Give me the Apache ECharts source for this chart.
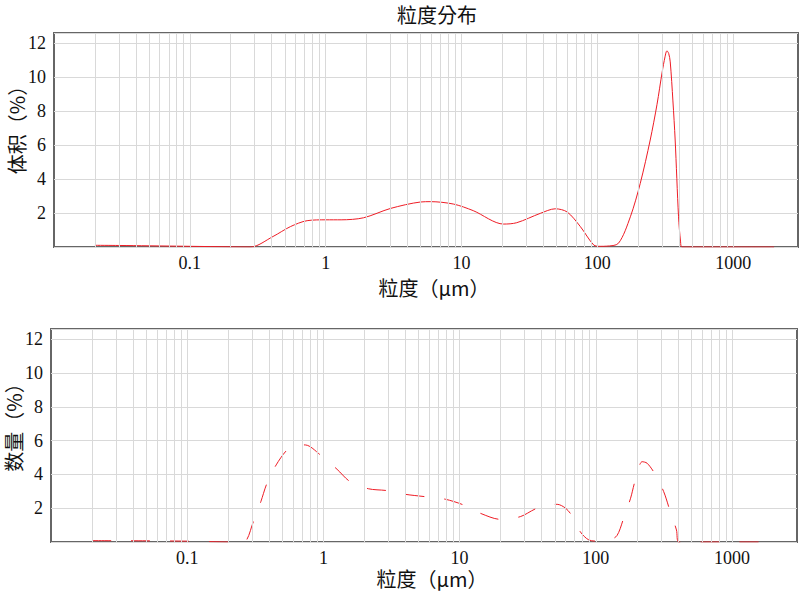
<!DOCTYPE html>
<html><head><meta charset="utf-8">
<script src="https://cdn.jsdelivr.net/npm/echarts@6/dist/echarts.min.js"></script>
<style>html,body{margin:0;padding:0;background:#fff}#c{width:800px;height:592px}</style>
</head><body><div id="c"></div>
<script>
// ---- text ----
const titleText = '粒度分布';
const xAxisName = '粒度（μm）';
const yNameVolume = '体积（%）';
const yNameNumber = '数量（%）';

// ---- vertical grid line positions (µm) ----
const gridLineValues = [
  0.02,0.03,0.04,0.05,0.06,0.07,0.08,0.09,
  0.1,0.2,0.3,0.4,0.5,0.6,0.7,0.8,0.9,
  1,2,3,4,5,6,7,8,9,
  10,20,30,40,50,60,70,80,90,
  100,200,300,400,500,600,700,800,900,1000
];

// ---- volume distribution (top) ----
const volumeSize = [0.02,0.03,0.05,0.1,0.2,0.28,0.41,0.55,0.73,1.0,1.3,1.9,3.0,5.0,5.9,8.7,12.2,20.4,25.5,38,49,60,75,94,105,117,143,175,207,245,275,300,315,325,335,344,360,374,396,410,419,600,1000,2000];
const volumePct  = [0.1,0.09,0.07,0.04,0.01,0,0.62,1.2,1.55,1.6,1.6,1.72,2.27,2.65,2.67,2.53,2.14,1.35,1.43,1.98,2.25,2.06,1.2,0.12,0.04,0.05,0.22,1.78,3.75,6.3,8.4,10.3,11.2,11.55,11.4,10.9,8.6,6.3,1.78,0.3,0,0,0,0];

// ---- number distribution (bottom) ----
const numberSize = [0.02,0.03,0.05,0.1,0.15,0.2,0.26,0.306,0.347,0.385,0.45,0.54,0.63,0.74,0.95,1.26,1.57,2.14,2.93,4.0,5.6,7.85,10.7,14.6,19.9,27.9,37.1,52,60,67,77,89,105,125,143,160,180,195,219,238,270,315,349,391,406,600,1000,2000];
const numberPct  = [0.08,0.075,0.07,0.05,0.02,0,0,1.2,2.38,3.47,4.56,5.44,5.75,5.74,5.15,4.3,3.57,3.15,3.04,2.82,2.68,2.53,2.19,1.66,1.34,1.5,2.0,2.23,2.0,1.54,0.6,0.12,0.05,0.1,0.38,1.4,2.59,3.67,4.75,4.66,4.06,2.98,1.89,0.71,0,0,0,0];

const zip = (xs, ys) => xs.map((x, i) => [x, ys[i]]);

const labelFont = { fontFamily: 'Liberation Serif', fontSize: 18, lineHeight: 15, color: '#111' };
const nameFont = { fontFamily: 'Noto Sans CJK TC', fontSize: 20, lineHeight: 22, color: '#111' };
const gridColor = '#d9d9d9';

function xAxisCfg(gridIndex, gap) {
  return {
    gridIndex, type: 'log', logBase: 10, min: 0.01, max: 3000,
    name: xAxisName, nameLocation: 'middle', nameGap: gap, nameMoveOverlap: false,
    nameTextStyle: Object.assign({ padding: [0, 0, 0, 16] }, nameFont),
    axisLine: { show: false }, axisTick: { show: false },
    splitLine: { show: false },
    axisLabel: Object.assign({ showMinLabel: false, showMaxLabel: false, margin: 8,
      formatter: v => String(v) }, labelFont)
  };
}
function yAxisCfg(gridIndex, name, gap, shift) {
  return {
    gridIndex, type: 'value', min: 0, max: 12.6, interval: 2,
    name, nameLocation: 'middle', nameGap: gap, nameMoveOverlap: false,
    nameTextStyle: Object.assign({ padding: [0, 0, 0, shift] }, nameFont),
    axisLine: { show: false }, axisTick: { show: false },
    splitLine: { show: true, lineStyle: { color: gridColor, width: 1 } },
    axisLabel: Object.assign({ showMinLabel: false, showMaxLabel: false, margin: 8 }, labelFont)
  };
}
function gridMarks(idx) {
  return {
    type: 'line', xAxisIndex: idx, yAxisIndex: idx, data: [], z: 1, silent: true,
    markLine: {
      silent: true, symbol: 'none', label: { show: false }, animation: false,
      lineStyle: { color: gridColor, width: 1, type: 'solid' },
      data: gridLineValues.map(v => ({ xAxis: v }))
    }
  };
}

const chart = echarts.init(document.getElementById('c'), null, { renderer: 'svg' });
chart.setOption({
  animation: false,
  backgroundColor: '#fff',
  graphic: [{
    type: 'text', x: 437, y: 4,
    style: { text: titleText, textAlign: 'center', textVerticalAlign: 'top',
      font: '20px "Noto Sans CJK TC"', lineHeight: 20, fill: '#111' }
  }],
  grid: [
    { left: 54, top: 33, width: 744, height: 214, show: true, borderColor: '#666', borderWidth: 2,
      backgroundColor: 'transparent', containLabel: false, outerBoundsMode: 'none' },
    { left: 51, top: 329, width: 746, height: 213, show: true, borderColor: '#666', borderWidth: 2,
      backgroundColor: 'transparent', containLabel: false, outerBoundsMode: 'none' }
  ],
  xAxis: [xAxisCfg(0, 29), xAxisCfg(1, 25)],
  yAxis: [yAxisCfg(0, yNameVolume, 27, 30), yAxisCfg(1, yNameNumber, 27, 26)],
  series: [
    gridMarks(0),
    gridMarks(1),
    {
      type: 'line', xAxisIndex: 0, yAxisIndex: 0, z: 3,
      data: zip(volumeSize, volumePct), showSymbol: false, smooth: 0.3,
      lineStyle: { color: '#ee1c25', width: 1 }
    },
    {
      type: 'line', xAxisIndex: 1, yAxisIndex: 1, z: 3,
      data: zip(numberSize, numberPct), showSymbol: false, smooth: 0.3,
      lineStyle: { color: '#ee1c25', width: 1, type: [19, 20] }
    }
  ]
});
</script>
</body></html>
